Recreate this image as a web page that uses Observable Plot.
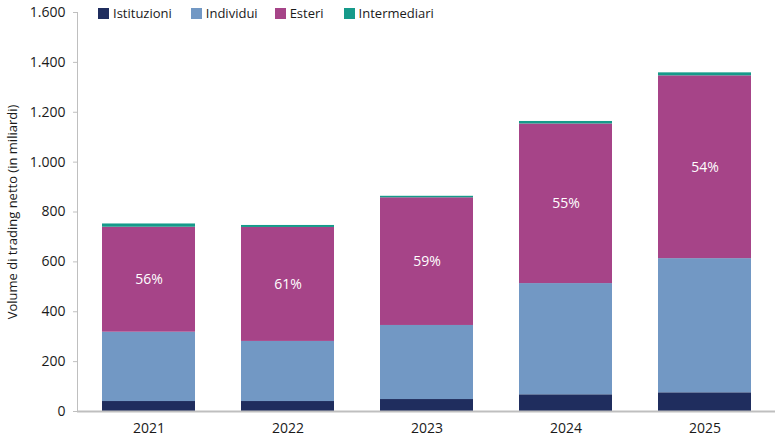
<!DOCTYPE html>
<html>
<head>
<meta charset="utf-8">
<script src="https://cdn.jsdelivr.net/npm/d3@7"></script>
<script src="https://cdn.jsdelivr.net/npm/@observablehq/plot@0.6"></script>
<style>
  html, body { margin: 0; padding: 0; background: #fff; }
  #wrap { position: relative; width: 780px; height: 440px; font-family: "Open Sans", sans-serif; }
  #legend { position: absolute; top: 4px; left: 98px; display: flex; font-size: 13px; color: #1a1a1a; }
  #legend .item { display: flex; align-items: center; margin-right: 0; }
  #legend .sw { width: 11px; height: 11px; margin-right: 4px; }
</style>
</head>
<body>
<div id="wrap">
  <div id="chart"></div>
  <div id="legend"></div>
</div>
<script>
const years = ["2021", "2022", "2023", "2024", "2025"];
const series = ["Istituzioni", "Individui", "Esteri", "Intermediari"];
const colors = ["#1f2d5e", "#7298c4", "#a64488", "#169a8a"];
const istituzioni = [40, 40, 48, 67, 75];
const individui = [278, 241, 297, 446, 538];
const esteri = [421, 457, 512, 640, 733];
const intermediari = [13, 8, 6, 10, 12];
const shareLabels = ["56%", "61%", "59%", "55%", "54%"];
const yTicks = [0, 200, 400, 600, 800, 1000, 1200, 1400, 1600];
const yLabel = "Volume di trading netto (in miliardi)";

const values = [istituzioni, individui, esteri, intermediari];
const data = [];
series.forEach((s, si) => years.forEach((y, yi) => data.push({year: y, series: s, value: values[si][yi]})));
const labels = years.map((y, i) => ({year: y, mid: istituzioni[i] + individui[i] + esteri[i] / 2, text: shareLabels[i]}));

const itFmt = d3.formatLocale({decimal: ",", thousands: ".", grouping: [3], currency: ["€", ""]}).format(",.0f");

const plot = Plot.plot({
  width: 780,
  height: 440,
  marginTop: 12,
  marginLeft: 77,
  marginRight: 5,
  marginBottom: 29,
  style: {fontFamily: "Open Sans, sans-serif", fontSize: "14px", color: "#1a1a1a", background: "#fff"},
  x: {domain: years, paddingInner: 0.333, paddingOuter: 0.1667, label: null},
  y: {domain: [0, 1600], label: null},
  color: {domain: series, range: colors},
  marks: [
    Plot.barY(data, {x: "year", y: "value", fill: "series"}),
    Plot.text(labels, {x: "year", y: "mid", text: "text", fill: "white", fontSize: 14}),
    Plot.axisY({ticks: yTicks, tickFormat: itFmt, tickSize: 4, tickPadding: 8, stroke: "#bfbfbf", label: null, fontSize: 14}),
    Plot.axisX({tickSize: 0, tickPadding: 12, label: null, fontSize: 14}),
    Plot.frame({anchor: "left", stroke: "#bfbfbf"}),
    Plot.ruleY([0], {stroke: "#bfbfbf", strokeWidth: 2}),
    Plot.text([yLabel], {frameAnchor: "left", textAnchor: "middle", rotate: -90, dx: -65, text: d => d, fontSize: 13, fill: "#1a1a1a"})
  ]
});
document.getElementById("chart").appendChild(plot);

const legend = document.getElementById("legend");
const gaps = [19, 17, 20, 0];
series.forEach((s, i) => {
  const it = document.createElement("div");
  it.className = "item";
  it.style.marginRight = gaps[i] + "px";
  it.innerHTML = `<span class="sw" style="background:${colors[i]}"></span><span>${s}</span>`;
  legend.appendChild(it);
});
</script>
</body>
</html>
